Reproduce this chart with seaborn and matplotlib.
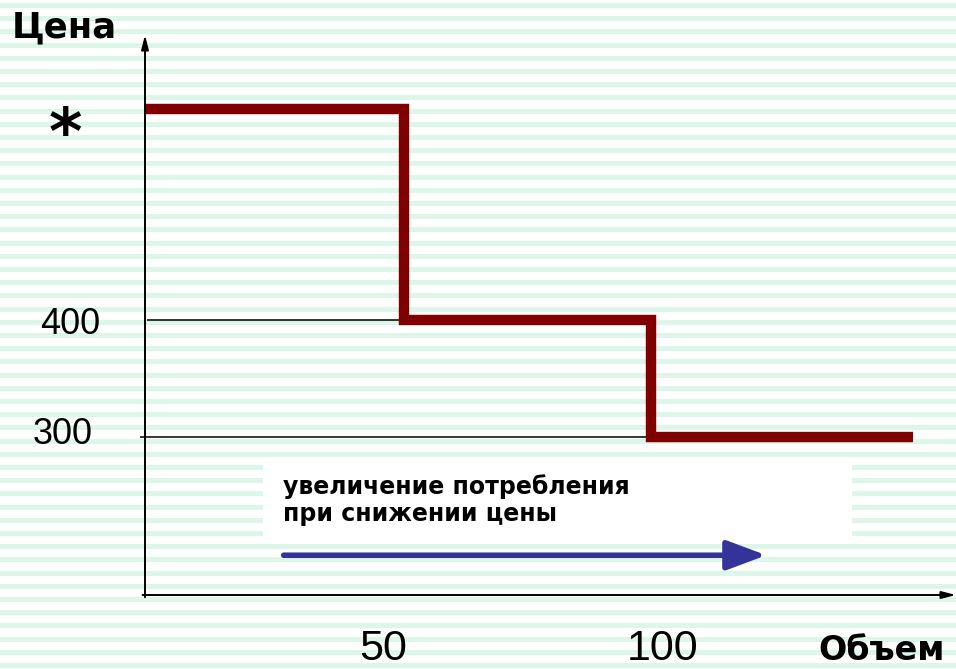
"""
Ступенчатая кривая цены: скидка при увеличении объема закупки
"""

import matplotlib
matplotlib.use("Agg")
import matplotlib.pyplot as plt
import matplotlib.transforms as mtransforms
import seaborn as sns
import pandas as pd

# --- данные ---
volume = [0, 50, 100, 153]          # объем (границы ступеней)
price = [580, 400, 300, 300]        # цена на каждой ступени (* = исходная цена)
price_ticks = [580, 400, 300]
price_labels = ["*", "400", "300"]
volume_ticks = [50, 100]
volume_labels = ["50", "100"]
note_text = "увеличение потребления\nпри снижении цены"

W, H = 956, 669
DARK_RED = "#800000"
NAVY = "#333399"

sns.set_theme(style="white")
plt.rcParams["font.family"] = ["DejaVu Sans"]

fig = plt.figure(figsize=(W / 100, H / 100), dpi=100)

# фон в полоску
bg = fig.add_axes([0, 0, 1, 1])
bg.set_xlim(0, W)
bg.set_ylim(H, 0)
bg.set_facecolor("#f2fcf7")
y = 0.0
while y < H:
    bg.axhspan(y + 3, y + 8, color="#dcf6ea", lw=0)
    y += 13.2
bg.axis("off")

# основная область графика (пиксели: x 145..956, y 35..595)
ax = fig.add_axes([145 / W, 1 - 595 / H, (W - 145) / W, (595 - 35) / H])
ax.patch.set_alpha(0)
ax.set_xlim(-2.43, 161.7)
ax.set_ylim(165, 643.6)
for s in ax.spines.values():
    s.set_visible(False)
x_left = ax.get_xlim()[0]

# первая ступень начинается от оси цены
df = pd.DataFrame({"volume": [x_left] + volume[1:], "price": price})
sns.lineplot(data=df, x="volume", y="price", drawstyle="steps-post",
             color=DARK_RED, lw=7.5, sort=False, ax=ax,
             solid_joinstyle="miter", solid_capstyle="butt")

# тонкие направляющие к уровням цены
ax.hlines(price[1], x_left + 0.5, volume[1], color="black", lw=1.1, zorder=1)
ax.hlines(price[2], x_left - 1, volume[2] + 1.8, color="black", lw=1.1,
          zorder=1, clip_on=False)

# оси со стрелками
ax.annotate("", xy=(0, 1), xytext=(0, -0.004), xycoords="axes fraction",
            arrowprops=dict(arrowstyle="-|>,head_length=0.7,head_width=0.18",
                            color="black", lw=1.4, shrinkA=0, shrinkB=0))
ax.annotate("", xy=(1, 0), xytext=(-0.003, 0), xycoords="axes fraction",
            arrowprops=dict(arrowstyle="-|>,head_length=0.7,head_width=0.18",
                            color="black", lw=1.4, shrinkA=0, shrinkB=0))

# подписи уровней цены
ax.set_yticks(price_ticks)
ax.set_yticklabels(price_labels)
ax.tick_params(axis="y", length=0, pad=0)
ax.set_ylabel("")
y_offsets = {"*": (-80, -20, 46, "bold"), "400": (-45, 0, 26, "normal"),
             "300": (-52, 7, 26, "normal")}
for lab in ax.get_yticklabels():
    dx, dy, size, weight = y_offsets[lab.get_text()]
    lab.set_fontsize(size)
    lab.set_fontweight(weight)
    lab.set_color("black")
    lab.set_ha("right" if weight == "normal" else "center")
    if weight == "normal":
        lab.set_family(["Liberation Sans"])
    lab.set_transform(lab.get_transform() +
                      mtransforms.ScaledTranslation(dx / 100, dy / 100, fig.dpi_scale_trans))

# подписи объема
ax.set_xticks(volume_ticks)
ax.set_xticklabels(volume_labels)
ax.tick_params(axis="x", length=0, pad=0)
ax.set_xlabel("")
x_offsets = {"50": -21, "100": 11}
for lab in ax.get_xticklabels():
    lab.set_fontsize(31)
    lab.set_family(["Liberation Sans"])
    lab.set_color("black")
    lab.set_va("center")
    lab.set_transform(lab.get_transform() +
                      mtransforms.ScaledTranslation(x_offsets[lab.get_text()] / 100, -54 / 100,
                                                    fig.dpi_scale_trans))

# белая плашка с пояснением и синяя стрелка
box = plt.Rectangle((0.1455, 0.1036), 0.7265, 0.1354, transform=ax.transAxes,
                    facecolor="white", edgecolor="none", zorder=2)
ax.add_patch(box)
ax.text(0.170, 0.170, note_text, transform=ax.transAxes, fontsize=17,
        fontweight="bold", color="black", va="center", ha="left",
        linespacing=1.15, zorder=3)
ax.annotate("", xy=(0.766, 0.071), xytext=(0.171, 0.071), xycoords="axes fraction",
            arrowprops=dict(arrowstyle="-|>,head_length=2.0,head_width=0.75",
                            color=NAVY, lw=4, shrinkA=0, shrinkB=0), zorder=3)

# названия осей
fig.text(12 / W, 1 - 27 / H, "Цена", fontsize=25.5, fontweight="bold",
         ha="left", va="center", color="black")
fig.text(882 / W, 1 - 667 / H, "Объем", fontsize=24, fontweight="bold",
         ha="center", va="bottom", color="black")

fig.savefig("out.png", dpi=100)
